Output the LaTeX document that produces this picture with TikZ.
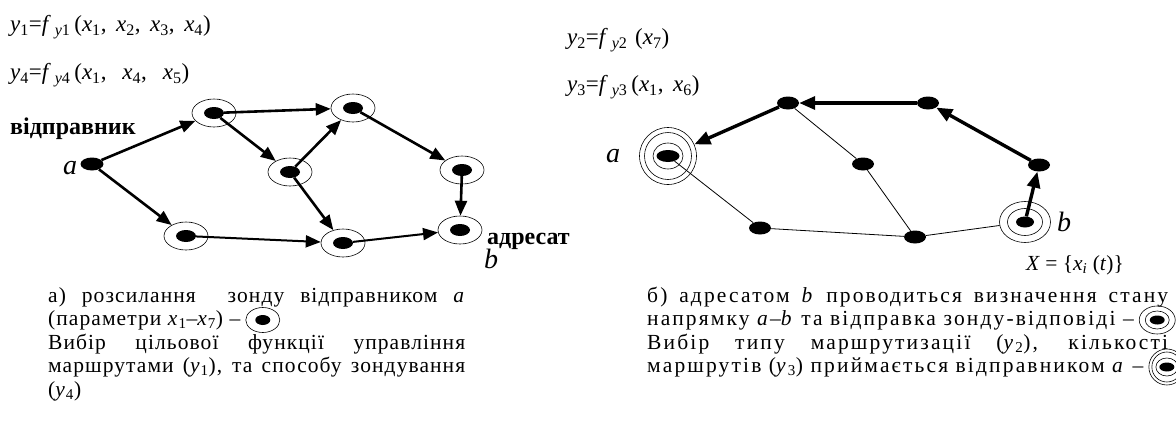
\documentclass[tikz,border=0pt]{standalone}
\usepackage{fontspec}
\usepackage{graphicx}
\setmainfont{Liberation Serif}
\newfontfamily\capfont[LetterSpace=5]{Liberation Serif}
\newfontfamily\capfontwide[LetterSpace=10]{Liberation Serif}
\usetikzlibrary{positioning,arrows.meta,shapes.geometric}

\newcommand\sub[1]{\textsubscript{#1}}
\newcommand\vx[1]{\textit{x}\sub{#1}}
\newcommand\vy[1]{\textit{y}\sub{#1}}

\tikzset{
  dot/.style={ellipse, fill=black, inner sep=0pt, minimum width=20pt, minimum height=12pt},
  probe/.style={ellipse, draw, line width=0.6pt, inner sep=0pt, minimum width=44pt, minimum height=28pt},
  ring/.style={ellipse, draw, line width=0.6pt, inner sep=0pt},
  arr/.style={-{Triangle[length=15pt,width=12pt]}, line width=2.6pt},
  heavy/.style={-{Triangle[length=16pt,width=13pt]}, line width=3.4pt},
  thinline/.style={line width=0.8pt},
  formula/.style={anchor=west, inner sep=0pt, font=\fontsize{23}{26}\selectfont},
  caption/.style={anchor=west, inner sep=0pt, font=\capfont\fontsize{21.5}{24}\selectfont},
  captionb/.style={caption, font=\capfontwide\fontsize{21.5}{24}\selectfont},
  role/.style={inner sep=0pt, font=\bfseries\fontsize{24}{26}\selectfont},
  var/.style={inner sep=0pt, font=\itshape\fontsize{28}{30}\selectfont}
}

\begin{document}
\begin{tikzpicture}[x=1pt, y=-1pt]
\useasboundingbox (0,0) rectangle (1176,421);

% Formulas
\node[formula] (fy1) at (10,27) {\vy1=\textit{f}\,\sub{\textit{y}1}\,(\vx1,\, \vx2,\, \vx3,\, \vx4)};
\node[formula] (fy4) at (10,75) {\vy4=\textit{f}\,\sub{\textit{y}4}\,(\vx1,\;\, \vx4,\;\, \vx5)};
\node[formula] (fy2) at (567,40) {\vy2=\textit{f}\,\sub{\textit{y}2}\,\,(\vx7)};
\node[formula] (fy3) at (567,87) {\vy3=\textit{f}\,\sub{\textit{y}3}\,(\vx1,\, \vx6)};

% Left graph: sender a and probed nodes
\node[dot, minimum width=23pt, minimum height=13pt] (a) at (92,164) {};
\foreach \n/\x/\y in {n1/214/113, n2/353/108, n3/290/172, n4/186/236, n5/343/243, n6/462/170, b/460/230}{
  \node[probe] (\n r) at (\x,\y) {};
  \node[dot] (\n) at (\x,\y) {};
}

% Left graph: probe arrows
\draw[arr] (a) -- (n1r);
\draw[arr] (a) -- (n4r);
\draw[arr] (n1) -- (n2r);
\draw[arr] (n1) -- (n3r);
\draw[arr] (n3) -- (n2r);
\draw[arr] (n3) -- (n5r);
\draw[arr, line width=2pt] (n4) -- (n5r);
\draw[arr] (n2) -- (n6r);
\draw[arr] (n6) -- (br);
\draw[arr, line width=2pt] (n5) -- (br);

% Left graph: labels
\node[role, anchor=west] (sender) at (10,129) {відправник};
\node[var] (la) at (70,168) {a};
\node[role, anchor=west] (dest) at (487,241) {адресат};
\node[var] (lb) at (491,259) {b};

% Right graph: sender a, destination b, plain nodes
\node[circle, draw, line width=0.6pt, minimum size=57pt] (ra3) at (668,156) {};
\node[circle, draw, line width=0.6pt, minimum size=47pt] (ra2) at (668,156) {};
\node[ring, minimum width=30pt, minimum height=26pt] (ra1) at (668,156) {};
\node[dot, minimum width=23pt] (ra) at (668,156) {};
\node[ring, minimum width=51pt, minimum height=41pt] (rb2) at (1025,222) {};
\node[ring, minimum width=35pt, minimum height=27pt] (rb1) at (1025,222) {};
\node[dot, minimum width=18pt, minimum height=11pt] (rb) at (1025,222) {};
\foreach \n/\x/\y in {m1/788/103, m2/928/103, m3/1039/165, m4/863/164, m5/915/237, m6/760/228}{
  \node[dot, minimum width=22pt, minimum height=13pt] (\n) at (\x,\y) {};
}

% Right graph: response route
\draw[heavy] (rb) -- (m3);
\draw[heavy] (m3) -- (m2);
\draw[heavy] (m2) -- (m1);
\draw[heavy] (m1) -- (ra3);
\draw[thinline] (m1) -- (m4);
\draw[thinline] (m4) -- (m5);
\draw[thinline] (ra) -- (m6);
\draw[thinline] (m6) -- (m5);
\draw[thinline] (m5) -- (rb2);

% Right graph: labels
\node[var] (lra) at (613,156) {a};
\node[var, right=6pt of rb2] (lrb) {b};
\node[inner sep=0pt, font=\fontsize{21.5}{23}\selectfont] (state) at (1075,265) {\textit{X} = \{\textit{x}\textsubscript{\textit{i}} (\textit{t})\}};

% Caption a)
\node[caption] (capA1) at (48,297) {\makebox[417pt][s]{а) розсилання \ зонду відправником \textit{a}}};
\node[caption] (capA2) at (48,320) {(параметри \vx1–\vx7) –};
\node[ring, minimum width=34pt, minimum height=25pt, right=5pt of capA2] (icA) {};
\node[dot, minimum width=15pt, minimum height=10pt] at (icA) {};
\node[caption] (capA3) at (48,344) {\makebox[417pt][s]{Вибір цільової функції управління}};
\node[caption] (capA4) at (48,367) {\makebox[417pt][s]{маршрутами (\vy1), та способу зондування}};
\node[caption] (capA5) at (48,391) {(\vy4)};

% Caption b)
\node[captionb] (capB1) at (647,297) {\makebox[521pt][s]{б) адресатом \textit{b} проводиться визначення стану}};
\node[captionb] (capB2) at (647,320) {напрямку \textit{a}–\textit{b} та відправка зонду-відповіді –};
\node[ring, minimum width=36pt, minimum height=28pt, right=5pt of capB2] (icB) {};
\node[ring, minimum width=24pt, minimum height=18pt] at (icB) {};
\node[dot, minimum width=15pt, minimum height=9pt] at (icB) {};
\node[captionb] (capB3) at (647,344) {\makebox[521pt][s]{Вибір типу маршрутизації (\vy2), кількості}};
\node[captionb] (capB4) at (647,367) {маршрутів (\vy3) приймається відправником \textit{a} –};
\node[circle, draw, line width=0.6pt, minimum size=36pt, right=5pt of capB4] (icC) {};
\node[circle, draw, line width=0.6pt, minimum size=30pt] at (icC) {};
\node[ring, minimum width=22pt, minimum height=18pt] at (icC) {};
\node[dot, minimum width=15pt, minimum height=9pt] at (icC) {};
\end{tikzpicture}
\end{document}
